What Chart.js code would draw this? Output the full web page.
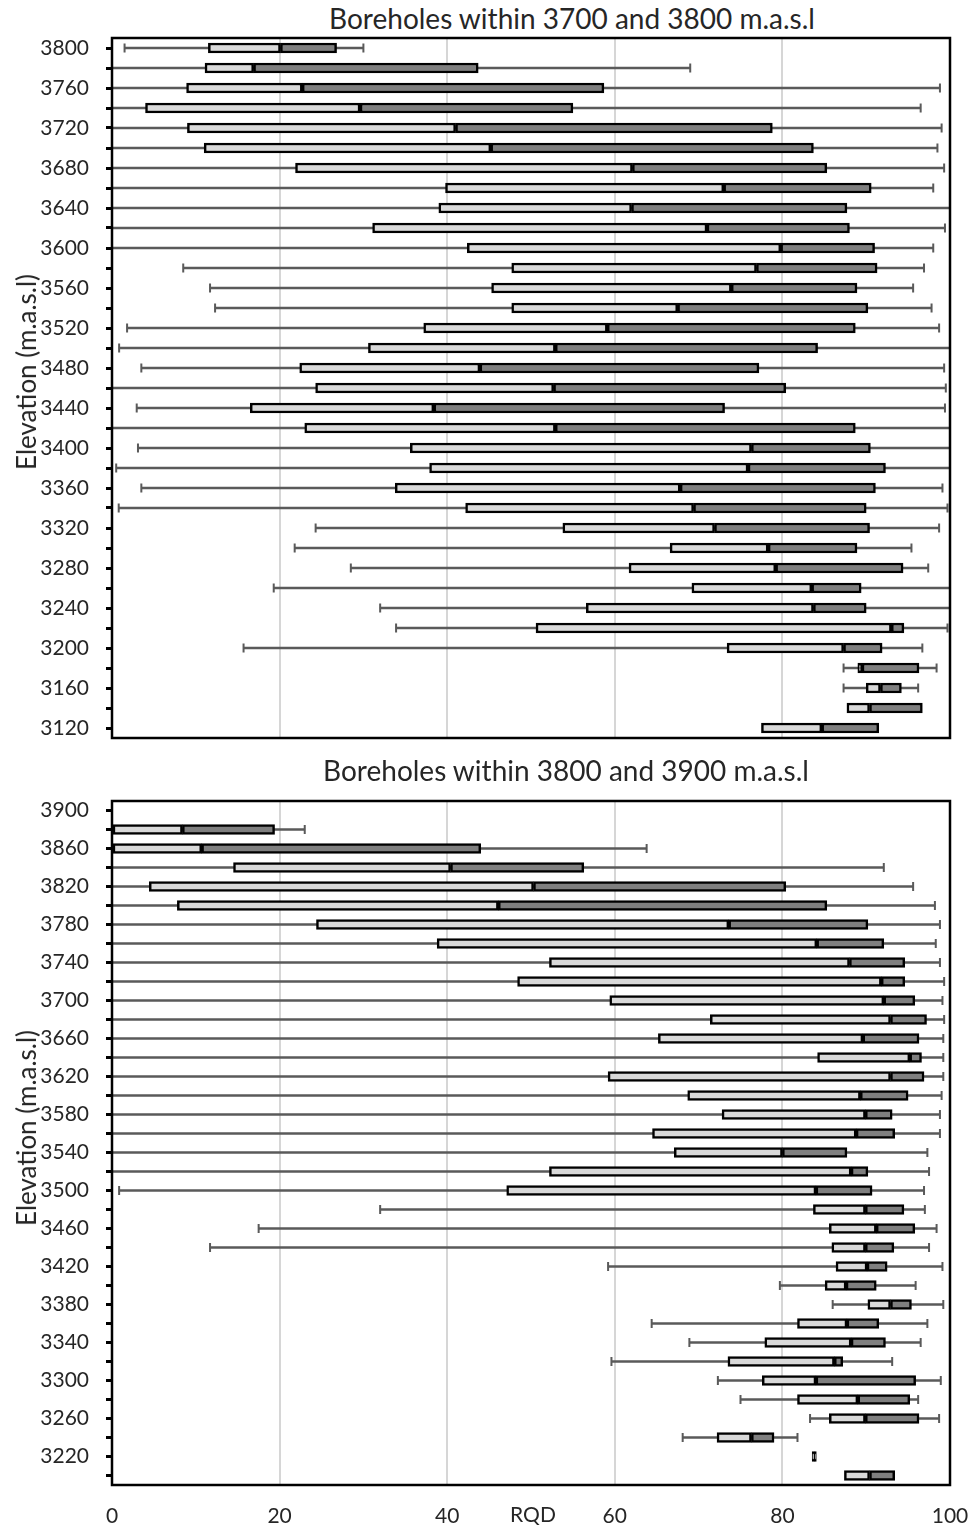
<!DOCTYPE html>
<html><head><meta charset="utf-8">
<script src="https://cdn.jsdelivr.net/npm/chart.js@4/dist/chart.umd.min.js"></script>
<style>
html,body{margin:0;padding:0;background:#fff;}
body{width:976px;height:1529px;position:relative;overflow:hidden;font-family:Lato,sans-serif;}
.wrap{position:absolute;left:0;width:976px;}
.title{position:absolute;font-family:Lato,sans-serif;font-size:28px;color:#262626;white-space:nowrap;transform:translateX(-50%);line-height:normal;}
.ytitle{position:absolute;font-family:Lato,sans-serif;font-size:26px;color:#262626;white-space:nowrap;line-height:normal;transform:translate(-50%,-50%) rotate(-90deg);}
</style></head><body>
<div class="title" style="left:572px;top:1px;">Boreholes within 3700 and 3800 m.a.s.l</div>
<div class="wrap" style="top:0;height:760px;"><canvas id="c1"></canvas></div>
<div class="title" style="left:566px;top:753px;">Boreholes within 3800 and 3900 m.a.s.l</div>
<div class="wrap" style="top:760px;height:769px;"><canvas id="c2"></canvas></div>
<div class="ytitle" style="left:26px;top:372px;">Elevation (m.a.s.l)</div>
<div class="ytitle" style="left:26px;top:1128px;">Elevation (m.a.s.l)</div>
<div style="position:absolute;left:533px;top:1501px;transform:translateX(-50%);font-family:Lato,sans-serif;font-size:21px;color:#262626;line-height:normal;">RQD</div>
<script>
// ---------- Panel 1: boreholes within 3700 and 3800 m.a.s.l ----------
const topElev = ['3800','3780','3760','3740','3720','3700','3680','3660','3640','3620','3600','3580','3560','3540','3520','3500','3480','3460','3440','3420','3400','3380','3360','3340','3320','3300','3280','3260','3240','3220','3200','3180','3160','3140','3120'];
const topMin = [1.5,0,0,0,0,0,0,0,0,0,0,8.5,11.7,12.3,1.8,0.85,3.5,0,2.95,0,3.1,0.5,3.5,0.8,24.3,21.8,28.5,19.3,32.0,33.9,15.7,87.3,87.3,null,null];
const topQ1  = [11.5,11.1,8.9,4.0,9.0,11.0,21.9,39.8,39.0,31.1,42.4,47.7,45.3,47.7,37.2,30.6,22.4,24.3,16.5,23.0,35.6,37.9,33.8,42.2,53.8,66.6,61.7,69.2,56.6,50.6,73.4,89.0,90.0,87.7,77.5];
const topMed = [20.1,16.9,22.7,29.6,41.0,45.2,62.1,73.0,62.0,71.0,79.8,76.9,73.9,67.5,59.1,52.9,43.9,52.7,38.4,52.9,76.3,75.9,67.8,69.4,71.9,78.3,79.2,83.5,83.7,93.0,87.3,89.5,91.7,90.4,84.7];
const topQ3  = [26.8,43.7,58.7,55.0,78.8,83.7,85.3,90.6,87.7,88.0,91.0,91.3,88.9,90.2,88.7,84.2,77.2,80.4,73.1,88.7,90.5,92.3,91.1,90.0,90.4,88.9,94.4,89.4,90.0,94.5,91.9,96.3,94.2,96.7,91.5];
const topMax = [30.0,69.0,98.8,96.5,99.0,98.5,99.3,98.0,100,99.4,98.0,96.9,95.6,97.8,98.7,100,99.3,99.5,99.4,100,100,100,99.1,99.7,98.7,95.4,97.4,100,100,99.7,96.7,98.4,96.2,null,null];

// ---------- Panel 2: boreholes within 3800 and 3900 m.a.s.l ----------
const botElev = ['3900','3880','3860','3840','3820','3800','3780','3760','3740','3720','3700','3680','3660','3640','3620','3600','3580','3560','3540','3520','3500','3480','3460','3440','3420','3400','3380','3360','3340','3320','3300','3280','3260','3240','3220','3200'];
const botMin = [null,0,0,0,0,0,0,0,0,0,0,0,0,0,0,0,0,0,0,0,0.85,32.0,17.5,11.7,59.2,79.7,86.0,64.4,68.9,59.6,72.3,75.0,83.3,68.1,null,null];
const botQ1  = [null,0,0,14.5,4.45,7.8,24.4,38.8,52.2,48.4,59.4,71.4,65.2,84.2,59.2,68.7,72.8,64.5,67.1,52.2,47.1,83.7,85.6,85.9,86.4,85.1,90.2,81.8,77.9,73.5,77.6,81.8,85.6,72.2,83.55,87.4];
const botMed = [null,8.4,10.7,40.4,50.3,46.1,73.6,84.1,88.0,91.8,92.1,92.9,89.6,95.2,92.9,89.3,89.9,88.8,80.0,88.2,84.0,89.9,91.2,89.9,90.1,87.6,92.9,87.7,88.2,86.2,84.0,89.0,89.9,76.3,83.8,90.4];
const botQ3  = [null,19.4,44.0,56.3,80.4,85.3,90.2,92.1,94.6,94.6,95.8,97.2,96.3,96.6,96.9,95.0,93.1,93.4,87.7,90.2,90.7,94.5,95.8,93.3,92.5,91.2,95.4,91.5,92.3,87.2,95.9,95.2,96.3,79.0,84.05,93.4];
const botMax = [null,23.0,63.8,92.1,95.6,98.2,98.8,98.3,98.8,99.3,99.1,99.3,99.2,99.2,99.2,99.0,98.8,98.8,97.3,97.5,96.9,97.0,98.4,97.5,99.1,95.9,99.2,97.3,96.5,93.1,98.9,96.2,98.7,81.8,null,null];

const xTicks = [0,20,40,60,80,100];

const TEXT = '#262626';
const frame = {
  id: 'frame',
  afterDatasetsDraw(chart) {
    const a = chart.chartArea, c = chart.ctx;
    c.save(); c.strokeStyle = '#000'; c.lineWidth = 2.5;
    c.strokeRect(a.left, a.top, a.right - a.left, a.bottom - a.top);
    c.restore();
  }
};

function panel(id, labels, mins, q1s, meds, q3s, maxs, opt) {
  const whisker = labels.map((l, i) => mins[i] == null ? null : [mins[i], maxs[i]]);
  const lower = labels.map((l, i) => q1s[i] == null ? null : [q1s[i], meds[i]]);
  const upper = labels.map((l, i) => q1s[i] == null ? null : [meds[i], q3s[i]]);
  const caps = [];
  labels.forEach((l, i) => {
    if (mins[i] != null) { caps.push({x: mins[i], y: l}); caps.push({x: maxs[i], y: l}); }
  });
  return new Chart(document.getElementById(id), {
    type: 'bar',
    data: {
      labels: labels,
      datasets: [
        {label: 'Q1-median', data: lower, backgroundColor: '#d9d9d9', borderColor: '#000', borderWidth: 2.5, borderSkipped: false, barThickness: 10, grouped: false, order: 1},
        {label: 'median-Q3', data: upper, backgroundColor: '#7f7f7f', borderColor: '#000', borderWidth: 2.5, borderSkipped: false, barThickness: 10, grouped: false, order: 1},
        {type: 'scatter', label: 'caps', data: caps, pointStyle: 'line', rotation: 90, pointRadius: 4.5, pointHoverRadius: 4.5, borderColor: '#5a5a5a', borderWidth: 2, order: 2},
        {label: 'range', data: whisker, backgroundColor: '#5a5a5a', borderWidth: 0, barThickness: 2, grouped: false, order: 3}
      ]
    },
    options: {
      indexAxis: 'y',
      responsive: true,
      maintainAspectRatio: false,
      animation: false,
      devicePixelRatio: 1,
      layout: {padding: {top: opt.padTop, right: 26, left: 0, bottom: 0}},
      plugins: {legend: {display: false}, tooltip: {enabled: false}},
      scales: {
        x: {
          type: 'linear', min: 0, max: 100,
          afterBuildTicks(s) { s.ticks = xTicks.map(v => ({value: v})); },
          afterFit(s) { s.height = opt.xHeight; s.paddingLeft = 0; s.paddingRight = 0; },
          border: {display: false},
          grid: {drawTicks: false, lineWidth: 2, color: c => (c.tick && (c.tick.value === 0 || c.tick.value === 100)) ? 'rgba(0,0,0,0)' : '#d6d6d6'},
          ticks: {display: opt.showX, padding: 19, color: TEXT, font: {family: 'Lato', size: 21}}
        },
        y: {
          type: 'category',
          afterFit(s) { s.width = 112; s.paddingTop = 0; s.paddingBottom = 0; },
          border: {display: false},
          grid: {drawOnChartArea: false, drawTicks: true, tickLength: 6, color: '#000', lineWidth: 3, offset: false},
          ticks: {
            autoSkip: false, padding: 17, color: TEXT, font: {family: 'Lato', size: 21},
            callback(v, i) { return i % 2 === 0 ? this.getLabelForValue(v) : ''; }
          }
        }
      }
    },
    plugins: [frame]
  });
}

panel('c1', topElev, topMin, topQ1, topMed, topQ3, topMax, {padTop: 38, xHeight: 22, showX: false});
panel('c2', botElev, botMin, botQ1, botMed, botQ3, botMax, {padTop: 41, xHeight: 44, showX: true});
</script>
</body></html>
